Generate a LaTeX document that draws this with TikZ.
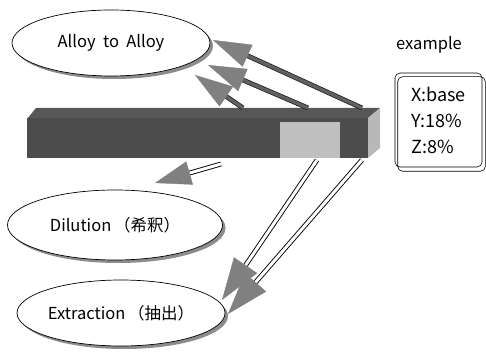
\documentclass[tikz,border=0pt]{standalone}
\usepackage{fontspec}
\setmainfont{Noto Sans CJK JP}
\usetikzlibrary{shapes.geometric,shadows,arrows.meta,calc,positioning}

\begin{document}
\begin{tikzpicture}[x=1pt, y=-1pt,
  oval/.style={ellipse, draw, line width=0.7pt, fill=white, inner sep=0pt,
    drop shadow={shadow xshift=3pt, shadow yshift=-3pt, fill=black!45, opacity=1},
    font=\fontsize{16.5}{20}\selectfont},
  exbox/.style={draw, rounded corners=5pt, line width=0.6pt, align=left,
    minimum width=87pt, minimum height=94pt, font=\fontsize{18}{26}\selectfont},
  upshaft/.style={line width=3.4pt, draw=black!62, preaction={draw=black!90, line width=4.8pt}},
  downshaft/.style={draw=black, double=white, double distance=3pt, line width=0.9pt},
  head/.style={-{Triangle[length=38pt, width=24pt]}, draw=black!50, fill=black!50, line width=0.4pt}
]
\useasboundingbox (0,0) rectangle (486,352);

% ovals
\node[oval, minimum width=198pt, minimum height=66pt] (alloy) at (111,43) {Alloy\ \ to\ \ Alloy};
\node[oval, minimum width=215pt, minimum height=70pt] (dilution) at (115,225) {Dilution\,（希釈）};
\node[oval, minimum width=208pt, minimum height=66pt] (extraction) at (121,313) {Extraction\,（抽出）};

% bar
\fill[black!66] (27,119) -- (36,108) -- (380,108) -- (368,118) -- cycle;
\fill[black!70] (27,118) rectangle (368,158);
\fill[black!28] (368,118) -- (380,108) -- (380,148) -- (368,158) -- cycle;
\fill[black!25] (280,122) rectangle (340,158);

% example box
\node[exbox] (ex) at (438.5,120) {X:base\\Y:18\%\\Z:8\%};
\draw[rounded corners=5pt, line width=0.6pt] ([xshift=3pt, yshift=-4pt]ex.north west) rectangle ([xshift=3pt, yshift=-4pt]ex.south east);
\node[font=\fontsize{16.5}{20}\selectfont] (exlabel) at (429,45) {example};

% arrow ends
\coordinate (u1) at (362,108); \coordinate (t1) at (213,40);
\coordinate (u2) at (308,108); \coordinate (t2) at (208,65);
\coordinate (u3) at (243,108); \coordinate (t3) at (195,75);
\coordinate (d0) at (221,164); \coordinate (d1) at (155,183);
\coordinate (e1) at (317,160); \coordinate (f1) at (222,300);
\coordinate (e2) at (362,160); \coordinate (f2) at (228,314);

% to alloy
\foreach \a/\b in {u1/t1, u2/t2, u3/t3} {
  \draw[upshaft, shorten >=30pt] (\a) -- (\b);
  \draw[head] ($(\b)!38pt!(\a)$) -- (\b);
}
% dilution
\draw[downshaft, shorten >=28pt] (d0) -- (d1);
\draw[head, -{Triangle[length=36pt, width=24pt]}] ($(d1)!36pt!(d0)$) -- (d1);
% extraction
\foreach \a/\b in {e1/f1, e2/f2} {
  \draw[downshaft, shorten >=32pt] (\a) -- (\b);
  \draw[head, -{Triangle[length=42pt, width=28pt]}] ($(\b)!42pt!(\a)$) -- (\b);
}
\end{tikzpicture}
\end{document}
